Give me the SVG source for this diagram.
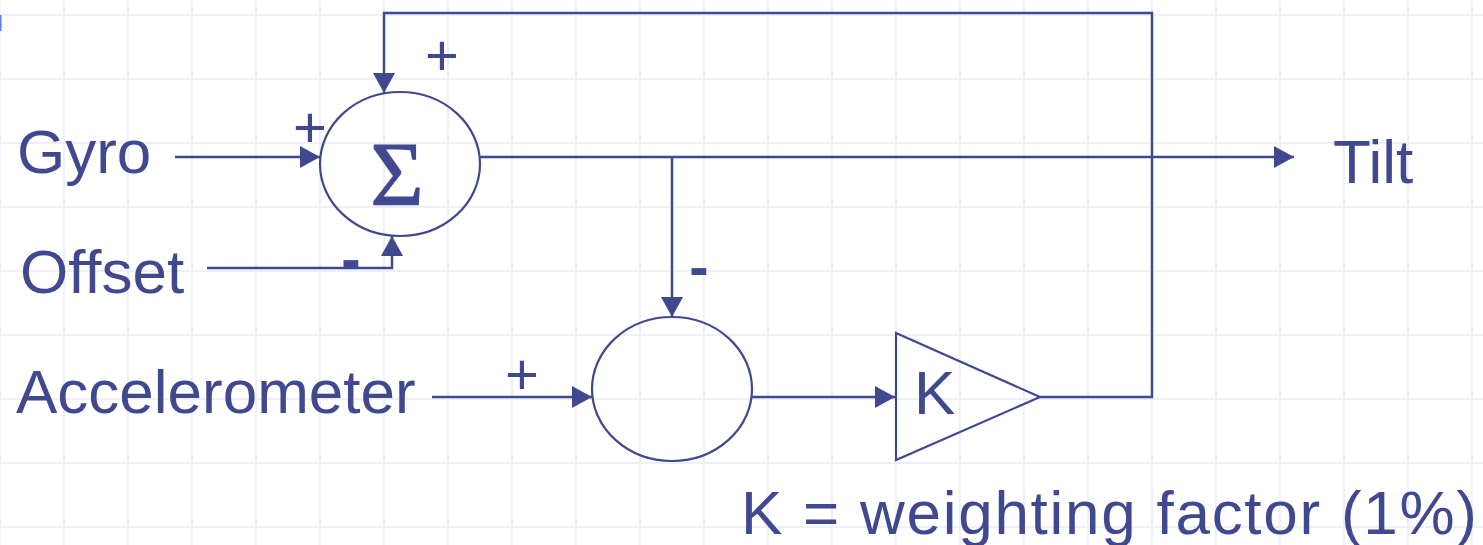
<svg xmlns="http://www.w3.org/2000/svg" width="1483" height="545" viewBox="0 0 1483 545">
<style>
.grid line{stroke:#EDF0FB;stroke-width:2}
.wire{fill:none;stroke:#404890;stroke-width:2.5}
.shape{fill:none;stroke:#404890;stroke-width:2.2}
.lbl{font-family:"Liberation Sans",Arial,sans-serif;font-size:62px;fill:#404890}
.sign{font-family:"Liberation Sans",Arial,sans-serif;font-size:58px;fill:#404890;text-anchor:middle}
.neg{font-family:"Liberation Sans",Arial,sans-serif;font-size:58px;font-weight:bold;fill:#404890;text-anchor:middle}
</style>
<defs>
<marker id="arr" markerUnits="userSpaceOnUse" markerWidth="20" markerHeight="22" refX="20" refY="11" orient="auto">
<path d="M0,0 L20,11 L0,22 z" fill="#404890"/>
</marker>
</defs>
<rect width="1483" height="545" fill="#FFFFFF"/>
<g class="grid">
<line x1="0" y1="0" x2="0" y2="545"/><line x1="64" y1="0" x2="64" y2="545"/><line x1="128" y1="0" x2="128" y2="545"/><line x1="192" y1="0" x2="192" y2="545"/><line x1="256" y1="0" x2="256" y2="545"/><line x1="320" y1="0" x2="320" y2="545"/><line x1="384" y1="0" x2="384" y2="545"/><line x1="448" y1="0" x2="448" y2="545"/><line x1="512" y1="0" x2="512" y2="545"/><line x1="576" y1="0" x2="576" y2="545"/><line x1="640" y1="0" x2="640" y2="545"/><line x1="704" y1="0" x2="704" y2="545"/><line x1="768" y1="0" x2="768" y2="545"/><line x1="832" y1="0" x2="832" y2="545"/><line x1="896" y1="0" x2="896" y2="545"/><line x1="960" y1="0" x2="960" y2="545"/><line x1="1024" y1="0" x2="1024" y2="545"/><line x1="1088" y1="0" x2="1088" y2="545"/><line x1="1152" y1="0" x2="1152" y2="545"/><line x1="1216" y1="0" x2="1216" y2="545"/><line x1="1280" y1="0" x2="1280" y2="545"/><line x1="1344" y1="0" x2="1344" y2="545"/><line x1="1408" y1="0" x2="1408" y2="545"/><line x1="1472" y1="0" x2="1472" y2="545"/>
<line x1="0" y1="15" x2="1483" y2="15"/><line x1="0" y1="79" x2="1483" y2="79"/><line x1="0" y1="143" x2="1483" y2="143"/><line x1="0" y1="207" x2="1483" y2="207"/><line x1="0" y1="271" x2="1483" y2="271"/><line x1="0" y1="335" x2="1483" y2="335"/><line x1="0" y1="399" x2="1483" y2="399"/><line x1="0" y1="463" x2="1483" y2="463"/><line x1="0" y1="527" x2="1483" y2="527"/>
</g>
<rect x="0" y="15" width="1.5" height="16" fill="#5B7BEF"/>

<g id="connectors">
<line class="wire" x1="175" y1="157" x2="320" y2="157" marker-end="url(#arr)"/>
<polyline class="wire" points="207,268 392,268 392,236" marker-end="url(#arr)"/>
<polyline class="wire" points="1040,397 1152,397 1152,13 384,13 384,93" marker-end="url(#arr)"/>
<line class="wire" x1="480" y1="157" x2="1294" y2="157" marker-end="url(#arr)"/>
<line class="wire" x1="672" y1="157" x2="672" y2="317" marker-end="url(#arr)"/>
<line class="wire" x1="432" y1="397" x2="592" y2="397" marker-end="url(#arr)"/>
<line class="wire" x1="752" y1="397" x2="895" y2="397" marker-end="url(#arr)"/>
</g>

<g id="sum1">
<ellipse class="shape" cx="400" cy="164" rx="80" ry="72"/>
<text x="397" y="205" text-anchor="middle" font-family="'Liberation Serif','Times New Roman',serif" font-size="92" fill="#404890" stroke="#404890" stroke-width="1">Σ</text>
</g>
<g id="sum2">
<ellipse class="shape" cx="672" cy="389" rx="80" ry="72"/>
</g>
<g id="gain">
<polygon class="shape" points="896,333 1040,397 896,460"/>
<text class="lbl" x="914" y="414" font-size="64">K</text>
</g>

<g id="labels">
<text class="lbl" x="17" y="173">Gyro</text>
<text class="lbl" x="20" y="293">Offset</text>
<text class="lbl" x="16" y="413">Accelerometer</text>
<text class="lbl" x="1333" y="183" font-size="64">Tilt</text>
<text class="lbl" x="741" y="534" font-size="63" textLength="736" lengthAdjust="spacing">K = weighting factor (1%)</text>
</g>

<g id="signs">
<text class="sign" x="310" y="147">+</text>
<text class="sign" x="442" y="75">+</text>
<text class="sign" x="522" y="394">+</text>
<text class="neg" x="351" y="279">-</text>
<text class="neg" x="699" y="287">-</text>
</g>
</svg>
